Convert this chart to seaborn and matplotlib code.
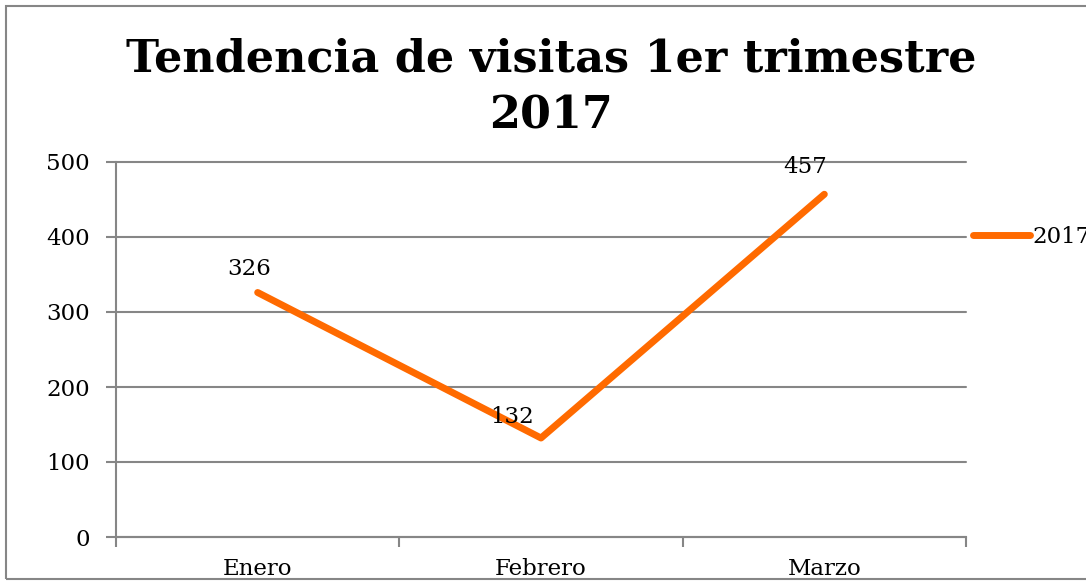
import matplotlib
matplotlib.use("Agg")
import matplotlib.pyplot as plt
import seaborn as sns
import pandas as pd
from matplotlib.patches import Rectangle

# datos
meses = ["Enero", "Febrero", "Marzo"]
visitas = [326, 132, 457]
serie = "2017"
titulo = "Tendencia de visitas 1er trimestre\n2017"
y_ticks = [0, 100, 200, 300, 400, 500]

sns.set_style("white")
plt.rcParams['font.family'] = ['DejaVu Serif']
plt.rcParams['text.color'] = 'black'
plt.rcParams['xtick.labelcolor'] = 'black'
plt.rcParams['ytick.labelcolor'] = 'black'

gris = "#868686"
naranja = "#FF6A00"

df = pd.DataFrame({"mes": meses, "visitas": visitas, "serie": serie})

fig = plt.figure(figsize=(10.86, 5.82), dpi=100)
ax = fig.add_axes([116 / 1086, 45 / 582, 850 / 1086, 375 / 582])

sns.lineplot(data=df, x="mes", y="visitas", hue="serie", palette=[naranja],
             linewidth=5, ax=ax, solid_capstyle="round", sort=False)

# etiquetas de datos (desplazamiento en puntos, como en el original)
desp = [(-6, 9), (-21, 7), (-14, 12)]
for i, v in enumerate(visitas):
    ax.annotate(str(v), (i, v), xytext=desp[i], textcoords="offset points",
                ha="center", va="bottom", fontsize=16.5, color="black")

ax.set_xlim(-0.5, len(meses) - 0.5)
ax.set_ylim(0, 500)
ax.set_yticks(y_ticks)
ax.set_xticks(range(len(meses)))
ax.set_xticklabels(meses)
ax.set_xticks([i - 0.5 for i in range(len(meses) + 1)], minor=True)
ax.set_xlabel("")
ax.set_ylabel("")

ax.grid(axis="y", color=gris, linewidth=1.5)
for gl in ax.get_ygridlines():
    gl.set_clip_on(False)
ax.set_axisbelow(True)
for s in ["top", "right"]:
    ax.spines[s].set_visible(False)
for s in ["left", "bottom"]:
    ax.spines[s].set_color(gris)
    ax.spines[s].set_linewidth(1.5)

ax.tick_params(axis="y", length=7, width=1.5, color=gris, labelsize=16.5, pad=12, left=True)
ax.tick_params(axis="x", which="major", length=0, labelsize=16.5, pad=15)
ax.tick_params(axis="x", which="minor", length=7, width=1.5, color=gris, bottom=True)

ax.legend(loc="center left", bbox_to_anchor=(1.008, 0.8), frameon=False,
          fontsize=16.5, handlelength=2.5, handletextpad=0.1, borderpad=0,
          borderaxespad=0)

fig.text(551 / 1086, 0.85, titulo, ha="center", va="center", fontsize=32,
         fontweight="bold", linespacing=1.4, color="black")

fig.patches.append(Rectangle((6 / 1086, 3 / 582), 1.2, 573 / 582,
                             transform=fig.transFigure, fill=False,
                             edgecolor=gris, linewidth=1.5))

fig.savefig("out.png", dpi=100)
